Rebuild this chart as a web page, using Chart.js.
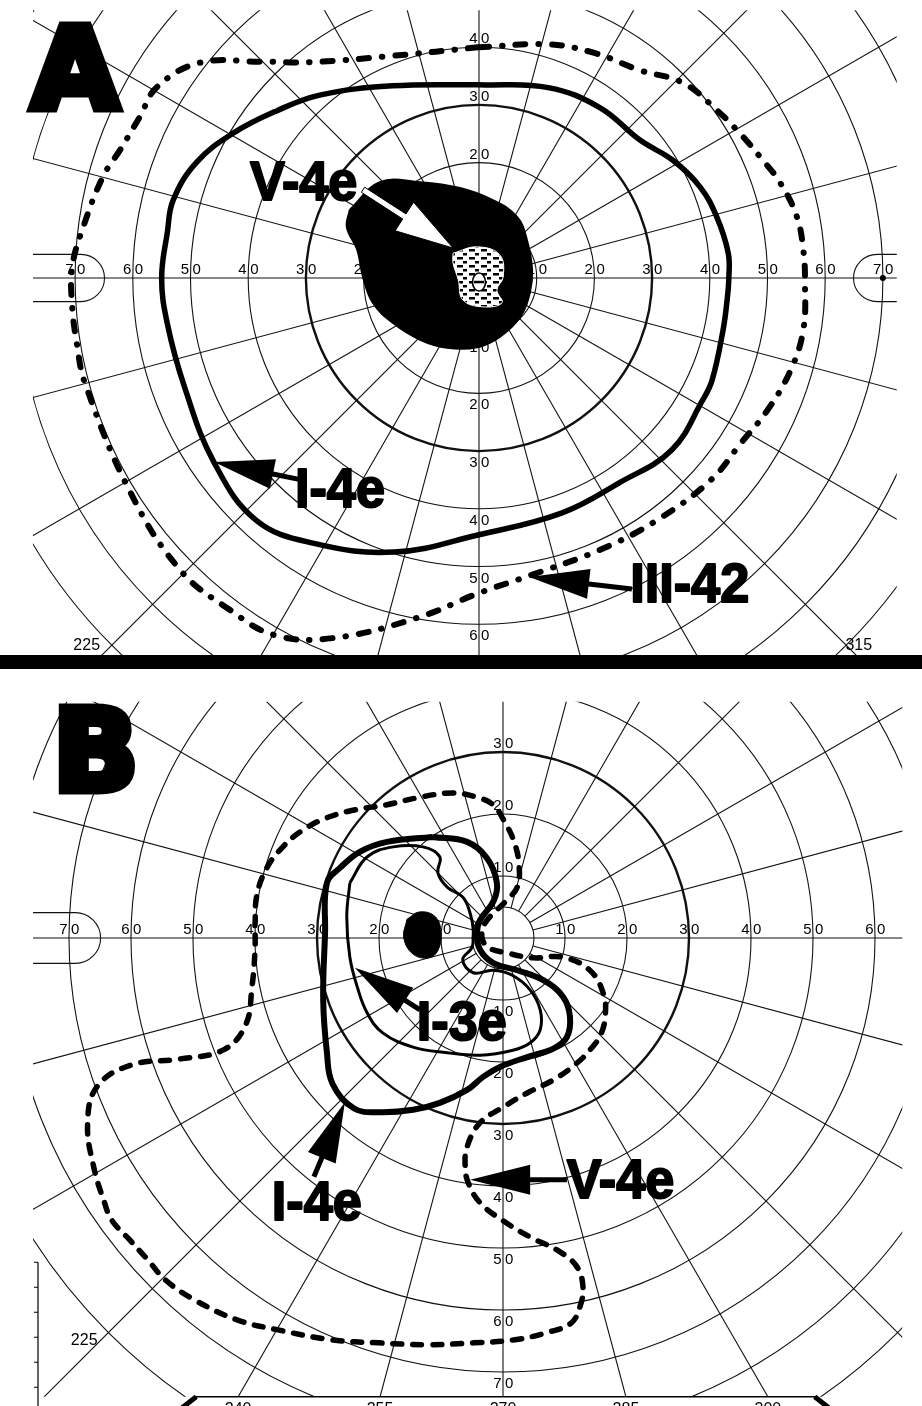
<!DOCTYPE html>
<html>
<head>
<meta charset="utf-8">
<script src="https://cdn.jsdelivr.net/npm/chart.js@4.4.1/dist/chart.umd.min.js"></script>
<style>
  html, body { margin: 0; padding: 0; background: #fff; }
  #wrap { position: relative; width: 922px; height: 1406px; overflow: hidden; background: #fff; }
  #chartA { position: absolute; left: 0; top: 0; }
  #bar { position: absolute; left: 0; top: 655px; width: 922px; height: 14px; background: #000; }
  #chartB { position: absolute; left: 0; top: 669px; }
</style>
</head>
<body>
<div id="wrap">
  <canvas id="chartA" width="922" height="655"></canvas>
  <div id="bar"></div>
  <canvas id="chartB" width="922" height="737"></canvas>
</div>
<script>
// Goldmann perimetry, two fields. All points are [x, y] in degrees from fixation
// (x to the right, y up).

// grid of the chart
const rings = [10, 20, 30, 40, 50, 60, 70, 80, 90];
const meridianStep = 15;
const ringLabelsA = { left: [10, 20, 30, 40, 50, 60, 70], right: [10, 20, 30, 40, 50, 60, 70], up: [10, 20, 30, 40], down: [10, 20, 30, 40, 50, 60] };
const ringLabelsB = { left: [10, 20, 30, 40, 50, 60, 70], right: [10, 20, 30, 40, 50, 60], up: [10, 20, 30], down: [10, 20, 30, 40, 50, 60, 70] };
const edgeLabelsB = [240, 255, 270, 285, 300];

// --- panel A ---
const scotomaA_V4e = [[-22.4,11.8],[-17.2,16.6],[-10.2,16.6],[-3.3,15.6],[2.4,13.5],[6.6,10.6],[8.3,6.6],[9.2,1.4],[8.8,-2.6],[7.1,-6.8],[3.6,-10.2],[-0.3,-12],[-5.5,-12.1],[-10.2,-10.7],[-14.9,-7.8],[-18.4,-4.3],[-20.1,0.2],[-21.1,4.9],[-22.9,8.8],[-22.4,11.8]];
const relScotomaA = [[-4.5,4.3],[-0.3,5.4],[3.6,4],[4.2,0.2],[3.1,-2.1],[4,-4.3],[0.7,-5],[-2.8,-3.8],[-3.6,-0.3],[-4.5,2.6],[-4.5,4.3]];
const isopterA_I4e = [[0,33.5],[12,33],[21,29.5],[27.9,23.9],[33.6,20.4],[38.3,15.8],[41.2,10.6],[43.2,4.3],[43.3,0],[43,-3.8],[42.3,-9],[40.4,-17.7],[38.8,-21.1],[33.4,-29.8],[24.3,-35.5],[14.4,-40.7],[0,-44.5],[-14.7,-47.5],[-28.6,-46],[-38.6,-42],[-45.9,-32],[-51,-19],[-54,-8],[-55,0],[-54,8],[-53,13.5],[-49,20],[-42.6,25.1],[-35,29],[-27.6,31.7],[-15,33.3],[0,33.5]];
const isopterA_III42 = [[0,40],[12,40.5],[20,39],[27.9,36],[35.4,33.8],[41.2,29.1],[45.2,25.1],[48.7,21],[52.2,16.5],[55.1,10.6],[56.2,4.9],[56.5,-0.9],[56.2,-9],[54,-16],[50,-22.9],[45.4,-28.6],[40.2,-35],[30.8,-42],[21,-47.1],[9,-51.5],[0,-54.6],[-10.7,-58.9],[-25.3,-62.4],[-35.4,-61.9],[-43.2,-57.5],[-51.8,-50.6],[-60.5,-37],[-68.3,-18.2],[-69.7,-11.3],[-70.5,-5],[-70.5,1.9],[-68.6,8.8],[-65.2,17.5],[-62.2,22.2],[-58.8,27.9],[-55.8,33.1],[-48.4,37.3],[-38,37.5],[-29.3,37.4],[-15,38.5],[0,40]];

// --- panel B ---
const isopterB_V4e = [[-40,2],[-39.7,6.9],[-38.1,11.3],[-35.5,14.7],[-32.3,17.4],[-28.4,19.4],[-24.2,20.6],[-18.7,21.5],[-13.9,22.6],[-8.1,23.4],[-4.2,22.7],[-1.6,21.5],[0,19.2],[1.8,15.5],[2.6,11.6],[2.3,8.2],[0.6,6.1],[-1,4.5],[-2.9,2.4],[-3.4,0.2],[-2.4,-1.5],[0.6,-2.4],[4.8,-3.2],[9.7,-3.1],[14,-5.2],[16.2,-9],[16.5,-12.5],[15.8,-15.5],[14.5,-17.5],[11.9,-20.2],[8.1,-22.9],[3.9,-25],[0,-27.3],[-3.7,-29.8],[-5.8,-33.7],[-6.1,-36.9],[-5.6,-39.5],[-3.7,-42.7],[0,-45.6],[4.5,-48.3],[9,-50.5],[11.9,-53],[12.9,-56.3],[12.4,-59.5],[11,-62.1],[7.6,-63.5],[1.9,-64.8],[-4.8,-65.3],[-12.4,-65.6],[-20,-65.3],[-27.7,-64.8],[-36.3,-63.2],[-42.9,-61.6],[-49.7,-58.4],[-54.4,-55.2],[-57.3,-51.9],[-60.2,-48.7],[-63.1,-45.5],[-64.4,-42.3],[-66,-37],[-67,-30],[-65.5,-24],[-60,-20.5],[-52,-19.5],[-45,-18],[-41.5,-14],[-40.5,-8],[-40,-2],[-40,2]];
const isopterB_I4e = [[-11.3,16.3],[-5.8,15.5],[-2.6,12.9],[-1,9],[-1.5,6],[-3.7,2.9],[-4.2,0.8],[-3.7,-1.9],[-1.6,-4],[2.3,-5.2],[6.5,-6.8],[9.7,-9.5],[10.8,-12.7],[10.3,-16],[8.2,-17.8],[3.9,-19.2],[-0.5,-20.8],[-3.2,-22.4],[-5.8,-24.5],[-10.2,-26.6],[-14.5,-27.7],[-19.8,-28.1],[-24,-27.5],[-27.5,-23.5],[-28.4,-18.5],[-29,-10],[-28.7,0.8],[-28.4,8.9],[-26.3,11.3],[-23.1,13.9],[-18.7,15.5],[-11.3,16.3]];
const isopterB_I3e = [[-24.7,8.9],[-21.9,13.1],[-17.7,14.7],[-12.9,14.7],[-10.2,13.1],[-10.5,10.5],[-9,8.2],[-6.5,6.6],[-5.3,4],[-4.8,1.3],[-5,-1.5],[-6.5,-3.5],[-4.8,-5.6],[-1.6,-5.2],[1.5,-6],[4.4,-8.4],[6,-11.6],[6,-14.8],[4.4,-16.9],[1.6,-18.1],[-3.7,-18.9],[-9,-18.5],[-14.5,-17.6],[-19.4,-15.3],[-21.9,-12.1],[-23.5,-7.9],[-24.7,-3.1],[-25.2,3.4],[-24.7,8.9]];
const blindSpotB = [[-15.5,3],[-13.5,4.2],[-11,3.5],[-10,1],[-10.5,-2],[-12,-3.2],[-14.5,-2.6],[-16,0],[-15.5,3]];

// labels with arrows: text anchor (left, baseline), arrow tail, arrow tip
const calloutsA = [
  { text: 'V-4e', at: [-39.7, 13.5], tail: [-20.1, 15.3], tip: [-4.5, 5.2], white: true },
  { text: 'I-4e', at: [-31.9, -39.7], tail: [-31.2, -34.9], tip: [-45.9, -31.9] },
  { text: 'III-42', at: [26.2, -56.2], tail: [26.5, -53.9], tip: [8.7, -51.8] }
];
const calloutsB = [
  { text: 'I-3e', at: [-13.9, -16.5], tail: [-13.4, -11.6], tip: [-23.9, -4.8] },
  { text: 'I-4e', at: [-37.3, -45.5], tail: [-30.5, -38.5], tip: [-25.5, -26.5] },
  { text: 'V-4e', at: [10.3, -41.9], tail: [10.3, -39], tip: [-5.3, -39] }
];

const pts = arr => arr.map(p => ({ x: p[0], y: p[1] }));

function hatchPattern() {
  const c = document.createElement('canvas');
  c.width = 12; c.height = 8;
  const g = c.getContext('2d');
  g.fillStyle = '#fff'; g.fillRect(0, 0, 12, 8);
  g.fillStyle = '#000';
  g.fillRect(1, 1, 6, 2.5);
  g.fillRect(7, 5, 4, 2.5);
  return g.createPattern(c, 'repeat');
}

// helpers working in degrees through the chart scales
function toPx(chart, p) {
  return [chart.scales.x.getPixelForValue(p[0]), chart.scales.y.getPixelForValue(p[1])];
}

function drawArrow(ctx, tail, tip, white) {
  const dx = tip[0] - tail[0], dy = tip[1] - tail[1];
  const len = Math.hypot(dx, dy);
  const ux = dx / len, uy = dy / len;
  const headLen = white ? 58 : 60, headW = white ? 17 : 15, shaft = white ? 6 : 5;
  const bx = tip[0] - ux * headLen, by = tip[1] - uy * headLen;
  ctx.save();
  ctx.fillStyle = white ? '#fff' : '#000';
  ctx.strokeStyle = '#000';
  ctx.lineWidth = 1;
  ctx.beginPath();
  ctx.moveTo(tail[0] - uy * shaft / 2, tail[1] + ux * shaft / 2);
  ctx.lineTo(bx - uy * shaft / 2, by + ux * shaft / 2);
  ctx.lineTo(bx - uy * headW, by + ux * headW);
  ctx.lineTo(tip[0], tip[1]);
  ctx.lineTo(bx + uy * headW, by - ux * headW);
  ctx.lineTo(bx + uy * shaft / 2, by - ux * shaft / 2);
  ctx.lineTo(tail[0] + uy * shaft / 2, tail[1] - ux * shaft / 2);
  ctx.closePath();
  ctx.fill();
  if (white) ctx.stroke();
  ctx.restore();
}

function drawHeavyText(ctx, text, x, y, size, squeeze, stroke) {
  ctx.save();
  ctx.translate(x, y);
  ctx.scale(squeeze, 1);
  ctx.font = 'bold ' + size + 'px "Liberation Sans", Arial, sans-serif';
  ctx.textAlign = 'left';
  ctx.textBaseline = 'alphabetic';
  ctx.fillStyle = '#000';
  ctx.strokeStyle = '#000';
  ctx.lineWidth = stroke;
  ctx.lineJoin = 'round';
  ctx.strokeText(text, 0, 0);
  ctx.fillText(text, 0, 0);
  ctx.restore();
}

// concentric rings, meridians, end caps and ring numbers
const perimetryGrid = {
  id: 'perimetryGrid',
  beforeDatasetsDraw(chart, args, opts) {
    const { ctx } = chart;
    const [cx, cy] = toPx(chart, [0, 0]);
    const k = chart.scales.x.getPixelForValue(1) - cx;
    const [l, t] = toPx(chart, [opts.clip[0], opts.clip[3]]);
    const [r, b] = toPx(chart, [opts.clip[1], opts.clip[2]]);
    ctx.save();
    ctx.beginPath();
    ctx.rect(l, t, r - l, b - t);
    ctx.clip();
    ctx.strokeStyle = '#111';
    rings.forEach(d => {
      ctx.lineWidth = d === 30 ? 2.4 : 1.1;
      ctx.beginPath();
      ctx.arc(cx, cy, d * k, 0, Math.PI * 2);
      ctx.stroke();
    });
    ctx.lineWidth = 1.1;
    ctx.beginPath();
    ctx.arc(cx, cy, 5 * k, 0, Math.PI * 2);
    ctx.stroke();
    for (let a = 0; a < 360; a += meridianStep) {
      const rad = a * Math.PI / 180;
      const from = (a % 90 === 0) ? 0 : 5;
      ctx.beginPath();
      ctx.moveTo(cx + Math.cos(rad) * from * k, cy - Math.sin(rad) * from * k);
      ctx.lineTo(cx + Math.cos(rad) * 130 * k, cy - Math.sin(rad) * 130 * k);
      ctx.stroke();
    }
    // end caps round the 70 mark on the horizontal meridian
    [-1, 1].forEach(side => {
      const ex = cx + side * 69 * k, er = 4.1 * k;
      ctx.beginPath();
      ctx.moveTo(cx + side * 140 * k, cy - er);
      ctx.lineTo(ex, cy - er);
      if (side < 0) ctx.arc(ex, cy, er, -Math.PI / 2, Math.PI / 2, false);
      else ctx.arc(ex, cy, er, -Math.PI / 2, Math.PI / 2, true);
      ctx.lineTo(cx + side * 140 * k, cy + er);
      ctx.stroke();
    });
    if (opts.dot) {
      ctx.fillStyle = '#000';
      ctx.beginPath();
      ctx.arc(cx + 70 * k, cy, 3, 0, Math.PI * 2);
      ctx.fill();
    }
    // ring numbers, the ring passes between the two digits
    ctx.fillStyle = '#000';
    ctx.font = '15px "Liberation Sans", Arial, sans-serif';
    ctx.textBaseline = 'alphabetic';
    const pair = (v, x, y) => {
      const s = String(v);
      ctx.textAlign = 'right';
      ctx.fillText(s[0], x - 1.5, y);
      ctx.textAlign = 'left';
      ctx.fillText(s[1], x + 2, y);
    };
    opts.labels.left.forEach(v => pair(v, cx - v * k, cy - 4));
    opts.labels.right.forEach(v => pair(v, cx + v * k, cy - 4));
    opts.labels.up.forEach(v => pair(v, cx, cy - v * k - 4));
    opts.labels.down.forEach(v => pair(v, cx, cy + v * k + 16));
    ctx.restore();
  }
};

// callouts, big panel letters and the chart frame text
const perimetryNotes = {
  id: 'perimetryNotes',
  afterDatasetsDraw(chart, args, opts) {
    const { ctx } = chart;
    if (opts.centre) {
      const [ex, ey] = toPx(chart, [0, -0.7]);
      ctx.save();
      ctx.fillStyle = '#fff';
      ctx.strokeStyle = '#000';
      ctx.lineWidth = 1.6;
      ctx.beginPath();
      ctx.ellipse(ex, ey, 6.5, 9, 0, 0, Math.PI * 2);
      ctx.fill();
      ctx.stroke();
      ctx.beginPath();
      ctx.moveTo(ex - 5, ey);
      ctx.lineTo(ex + 5, ey);
      ctx.lineWidth = 2.5;
      ctx.stroke();
      ctx.restore();
    }
    opts.callouts.forEach(c => {
      drawArrow(ctx, toPx(chart, c.tail), toPx(chart, c.tip), c.white);
      const [tx, ty] = toPx(chart, c.at);
      drawHeavyText(ctx, c.text, tx, ty, 55, 0.95, 2);
    });
    const [lx, ly] = toPx(chart, opts.letter.at);
    ctx.save();
    ctx.font = 'bold 112px "DejaVu Sans", sans-serif';
    ctx.fillStyle = '#000';
    ctx.strokeStyle = '#000';
    ctx.lineWidth = 9;
    ctx.lineJoin = 'miter';
    ctx.strokeText(opts.letter.text, lx, ly);
    ctx.fillText(opts.letter.text, lx, ly);
    ctx.restore();
    ctx.save();
    ctx.fillStyle = '#000';
    ctx.font = '16px "Liberation Sans", Arial, sans-serif';
    opts.frameText.forEach(f => {
      const [fx, fy] = toPx(chart, f.at);
      ctx.fillText(f.text, fx, fy);
    });
    if (opts.edge) {
      const e = opts.edge;
      const [x0, yb] = toPx(chart, [e.from, e.y]);
      const [x1] = toPx(chart, [e.to, e.y]);
      ctx.strokeStyle = '#000';
      ctx.lineWidth = 1.5;
      ctx.beginPath();
      ctx.moveTo(x0, yb); ctx.lineTo(x1, yb);
      ctx.stroke();
      ctx.lineWidth = 5;
      ctx.beginPath();
      ctx.moveTo(x0 - 16, yb + 14); ctx.lineTo(x0 + 2, yb);
      ctx.moveTo(x1 + 16, yb + 14); ctx.lineTo(x1 - 2, yb);
      ctx.stroke();
      ctx.textAlign = 'center';
      edgeLabelsB.forEach(a => {
        const xd = e.y / Math.tan(a * Math.PI / 180);
        const [ax] = toPx(chart, [xd, e.y]);
        ctx.fillText(String(a), ax, yb + 17);
      });
      // ruler on the left edge
      const [rx, ry0] = toPx(chart, [e.ruler, e.rulerTop]);
      ctx.lineWidth = 1.2;
      ctx.beginPath();
      ctx.moveTo(rx, ry0); ctx.lineTo(rx, chart.height);
      for (let yy = ry0; yy < chart.height; yy += 25) {
        ctx.moveTo(rx - 4, yy); ctx.lineTo(rx, yy);
      }
      ctx.stroke();
    }
    ctx.restore();
  }
};

function lineSet(data, width, dash, order) {
  return {
    data: pts(data), showLine: true, fill: false, borderColor: '#000', borderWidth: width,
    borderDash: dash, borderCapStyle: dash.length ? 'round' : 'butt', borderJoinStyle: 'round',
    tension: 0.4, pointRadius: 0, order: order
  };
}

function fieldChart(id, view, datasets, grid, notes) {
  const W = view.w, H = view.h;
  return new Chart(document.getElementById(id), {
    type: 'scatter',
    data: { datasets: datasets },
    options: {
      responsive: false,
      animation: false,
      devicePixelRatio: 1,
      layout: { padding: 0 },
      clip: false,
      scales: {
        x: { type: 'linear', display: false, min: -view.cx / view.k, max: (W - view.cx) / view.k },
        y: { type: 'linear', display: false, min: -(H - view.cy) / view.k, max: view.cy / view.k }
      },
      plugins: {
        legend: { display: false },
        tooltip: { enabled: false },
        perimetryGrid: grid,
        perimetryNotes: notes
      }
    },
    plugins: [perimetryGrid, perimetryNotes]
  });
}

fieldChart('chartA', { w: 922, h: 655, cx: 479, cy: 278, k: 5.77 }, [
  { data: pts(scotomaA_V4e), showLine: true, fill: 'shape', backgroundColor: '#000', borderColor: '#000', borderWidth: 2, tension: 0.4, pointRadius: 0, order: 5 },
  { data: pts(relScotomaA), showLine: true, fill: 'shape', backgroundColor: hatchPattern(), borderColor: '#fff', borderWidth: 1, tension: 0.4, pointRadius: 0, order: 4 },
  lineSet(isopterA_I4e, 5.5, [], 2),
  lineSet(isopterA_III42, 6, [10, 13, 0.5, 13], 1)
], {
  clip: [-77.3, 72.4, -70, 46.4], labels: ringLabelsA, dot: true
}, {
  centre: true,
  callouts: calloutsA,
  letter: { text: 'A', at: [-77.5, 29.5] },
  frameText: [{ text: '225', at: [-70.3, -64.4] }, { text: '315', at: [63.5, -64.4] }]
});

fieldChart('chartB', { w: 922, h: 737, cx: 503, cy: 269, k: 6.2 }, [
  { data: pts(blindSpotB), showLine: true, fill: 'shape', backgroundColor: '#000', borderColor: '#000', borderWidth: 1, tension: 0.4, pointRadius: 0, order: 5 },
  lineSet(isopterB_I3e, 3, [], 3),
  lineSet(isopterB_I4e, 6, [], 2),
  lineSet(isopterB_V4e, 5.5, [9, 11], 1)
], {
  clip: [-75.8, 64.4, -74, 38.1], labels: ringLabelsB, dot: false
}, {
  centre: false,
  callouts: calloutsB,
  letter: { text: 'B', at: [-72.6, 23.8] },
  frameText: [{ text: '225', at: [-69.7, -65.6] }],
  edge: { y: -74, from: -49.8, to: 50.6, ruler: -75, rulerTop: -52.3 }
});
</script>
</body>
</html>
